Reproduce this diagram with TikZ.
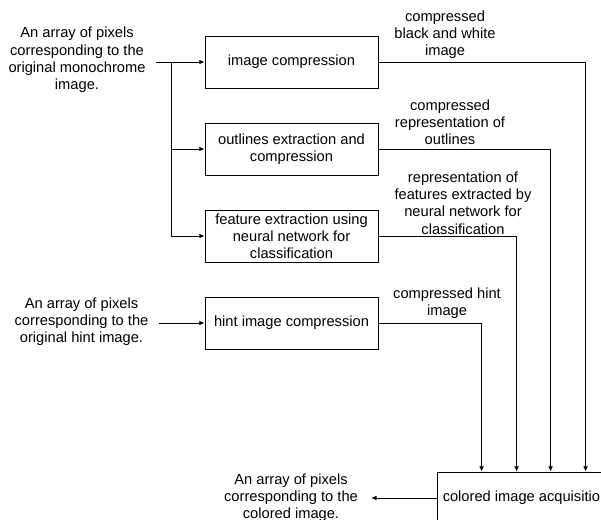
\documentclass[tikz,border=0pt]{standalone}
\usepackage{fontspec}
\setmainfont{Liberation Sans}
\usetikzlibrary{arrows.meta}
\usetikzlibrary{calc}
\newcommand{\diagramfont}{\fontsize{11}{12.9}\selectfont}
\tikzstyle{stage}=[draw, inner xsep=2pt, inner ysep=0.5pt, minimum width=129.75pt, minimum height=39pt,
                   align=center, font=\diagramfont]
\tikzstyle{note}=[inner sep=0, outer xsep=8pt, align=center, font=\diagramfont]
\tikzstyle{flow}=[-{Latex[length=4pt, width=3.5pt]}]
\tikzstyle{blockdiagram}=[x=0.75pt, y=-0.75pt, line width=0.6pt]
\begin{document}
\begin{tikzpicture}[blockdiagram]
    \useasboundingbox (0, 0) rectangle (601, 519);
    % processing stages
    \node[stage] (compress) at (291.5, 62) {image compression};
    \node[stage] (outlines) at (291.5, 149) {outlines extraction and\\compression};
    \node[stage] (features) at (291.5, 236) {feature extraction using\\neural network for\\classification};
    \node[stage] (hint) at (291.5, 323) {hint image compression};
    \node[stage, minimum width=132.75pt] (acquire) at (525.5, 498) {colored image acquisition};
    % inputs and output
    \node[note] (mono) at (77, 60) {An array of pixels\\corresponding to the\\original monochrome\\image.};
    \node[note] (hintin) at (81.5, 322) {An array of pixels\\corresponding to the\\original hint image.};
    \node[note, outer xsep=10pt] (colored) at (291, 497.5) {An array of pixels\\corresponding to the\\colored image.};
    % data passed between stages
    \node[note] (bwlabel) at (445, 34.5) {compressed\\black and white\\image};
    \node[note] (outlinelabel) at (450, 122) {compressed\\representation of\\outlines};
    \node[note] (featurelabel) at (463, 203) {representation of\\features extracted by\\neural network for\\classification};
    \node[note] (hintlabel) at (447, 303.5) {compressed hint\\image};
    \coordinate (split) at (171, 62);
    \draw[flow] (mono.east |- compress) -- (compress);
    \draw[flow] (split |- outlines) -- (outlines);
    \draw[flow] (split) |- (features);
    \draw[flow] (hintin.east |- hint) -- (hint);
    \draw[flow] (compress) -| ($(acquire.north west) + (149, 0)$);
    \draw[flow] (outlines) -| ($(acquire.north west) + (114, 0)$);
    \draw[flow] (features) -| ($(acquire.north west) + (80, 0)$);
    \draw[flow] (hint) -| ($(acquire.north west) + (45, 0)$);
    \draw[flow] (acquire) -- (colored.east |- acquire);
\end{tikzpicture}
\end{document}
